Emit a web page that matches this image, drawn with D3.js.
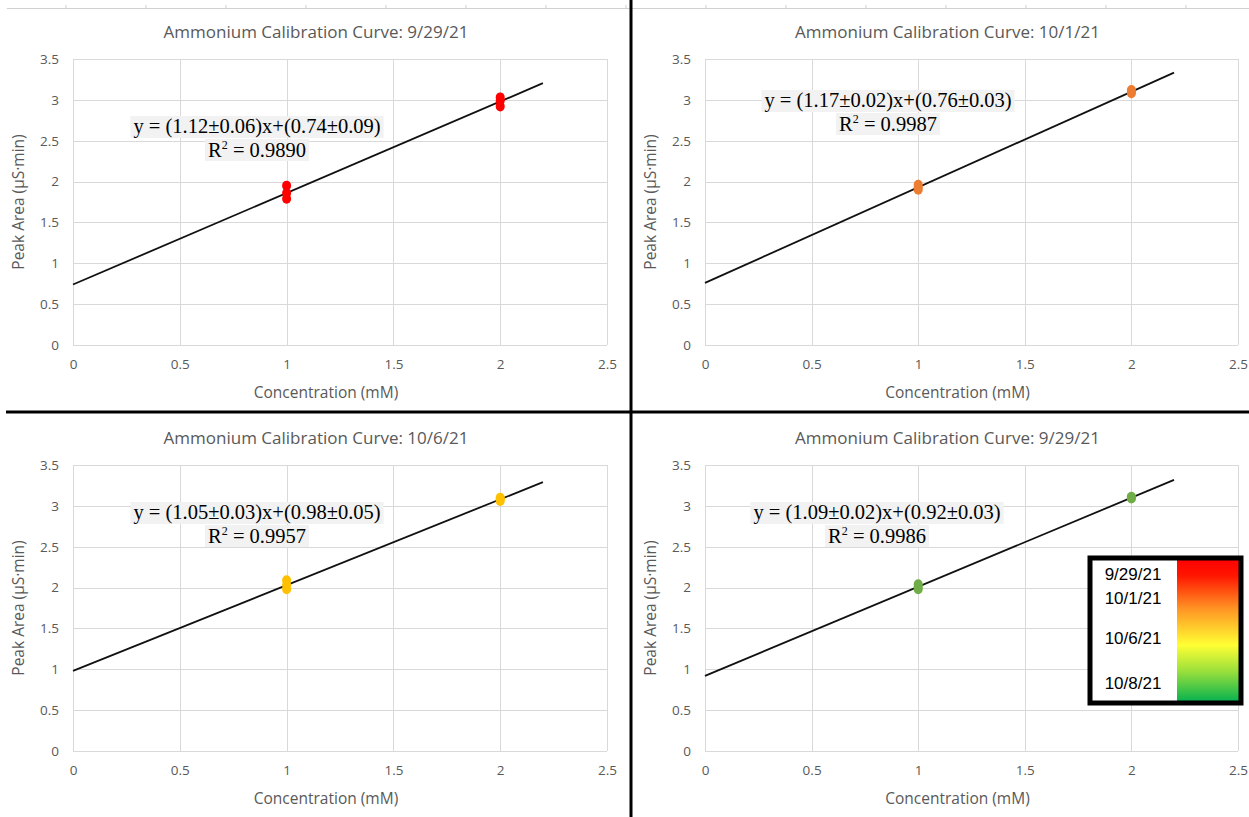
<!DOCTYPE html>
<html>
<head>
<meta charset="utf-8">
<script src="https://cdn.jsdelivr.net/npm/d3@7"></script>
<style>
  html, body { margin: 0; padding: 0; background: #fff; }
  svg { display: block; }
</style>
</head>
<body>
<svg id="chart" width="1249" height="817"></svg>
<script>
// Calibration runs, one panel each
const titles = [
  "Ammonium Calibration Curve: 9/29/21",
  "Ammonium Calibration Curve: 10/1/21",
  "Ammonium Calibration Curve: 10/6/21",
  "Ammonium Calibration Curve: 9/29/21"
];
const pointColors = ["#ff0000", "#ed7d31", "#ffc000", "#70ad47"];
const slopes = [1.12, 1.17, 1.05, 1.09];
const slopeErrs = ["0.06", "0.02", "0.03", "0.02"];
const intercepts = [0.74, 0.76, 0.98, 0.92];
const interceptErrs = ["0.09", "0.03", "0.05", "0.03"];
const rSquared = ["0.9890", "0.9987", "0.9957", "0.9986"];

// Standards (mM) and measured peak areas (µS·min)
const concentrations = [1, 1, 1, 2, 2, 2];
const areasRun1 = [1.79, 1.86, 1.95, 2.92, 2.99, 3.03];
const areasRun2 = [1.90, 1.93, 1.96, 3.08, 3.10, 3.12];
const areasRun3 = [1.98, 2.03, 2.09, 3.06, 3.08, 3.10];
const areasRun4 = [1.98, 2.01, 2.04, 3.09, 3.10, 3.11];
const areas = [areasRun1, areasRun2, areasRun3, areasRun4];

const xTicks = [0, 0.5, 1, 1.5, 2, 2.5];
const yTicks = [0, 0.5, 1, 1.5, 2, 2.5, 3, 3.5];
const fitEnd = 2.2;

const legendDates = ["9/29/21", "10/1/21", "10/6/21", "10/8/21"];
const legendPositions = [0.11, 0.275, 0.555, 0.865];

const svg = d3.select("#chart");

// Panel frames: plot-area origin and extents
const frames = [
  { x0: 73, x1: 607, yTop: 59, yBot: 345, titleY: 38, xLabY: 398, yLabX: 24, eqX: 257, eqY: 133 },
  { x0: 705, x1: 1238, yTop: 59, yBot: 345, titleY: 38, xLabY: 398, yLabX: 656, eqX: 888, eqY: 107 },
  { x0: 73, x1: 607, yTop: 465, yBot: 751, titleY: 444, xLabY: 804, yLabX: 24, eqX: 257, eqY: 519 },
  { x0: 705, x1: 1238, yTop: 465, yBot: 751, titleY: 444, xLabY: 804, yLabX: 656, eqX: 877, eqY: 519 }
];

const sansFont = "'Open Sans', 'Liberation Sans', sans-serif";
const serifFont = "'Liberation Serif', 'DejaVu Serif', serif";
const textGray = "#595959";
const gridGray = "#d9d9d9";

// Faint sheet ruler along the top edge
const ruler = svg.append("g");
ruler.append("line").attr("x1", 7).attr("x2", 1249).attr("y1", 8.5).attr("y2", 8.5)
  .attr("stroke", "#d0d0d0").attr("stroke-width", 1);
ruler.selectAll("line.tick").data(d3.range(66, 1249, 80)).join("line")
  .attr("class", "tick")
  .attr("x1", d => d).attr("x2", d => d).attr("y1", 5).attr("y2", 8.5)
  .attr("stroke", "#d0d0d0");

frames.forEach((f, i) => {
  const x = d3.scaleLinear().domain([0, 2.5]).range([f.x0, f.x1]);
  const y = d3.scaleLinear().domain([0, 3.5]).range([f.yBot, f.yTop]);
  const g = svg.append("g");

  // Gridlines
  g.append("g").selectAll("line").data(yTicks).join("line")
    .attr("x1", f.x0).attr("x2", f.x1)
    .attr("y1", d => Math.round(y(d)) + 0.5).attr("y2", d => Math.round(y(d)) + 0.5)
    .attr("stroke", gridGray).attr("stroke-width", 1);
  g.append("g").selectAll("line").data(xTicks).join("line")
    .attr("x1", d => Math.round(x(d)) + 0.5).attr("x2", d => Math.round(x(d)) + 0.5)
    .attr("y1", f.yTop).attr("y2", f.yBot)
    .attr("stroke", gridGray).attr("stroke-width", 1);

  // Axes (labels only, Excel-style)
  const xAxis = g.append("g").attr("transform", `translate(0,${f.yBot})`)
    .call(d3.axisBottom(x).tickValues(xTicks).tickSize(0).tickPadding(14).tickFormat(d3.format("")));
  const yAxis = g.append("g").attr("transform", `translate(${f.x0},0)`)
    .call(d3.axisLeft(y).tickValues(yTicks).tickSize(0).tickPadding(14).tickFormat(d3.format("")));
  [xAxis, yAxis].forEach(a => {
    a.select(".domain").remove();
    a.selectAll("text").attr("fill", textGray).attr("font-size", 13.5)
      .attr("font-family", sansFont);
  });

  // Title and axis titles
  g.append("text").attr("x", (f.x0 + f.x1) / 2 - 24).attr("y", f.titleY)
    .attr("text-anchor", "middle").attr("fill", textGray)
    .attr("font-family", sansFont).attr("font-size", 17)
    .text(titles[i]);
  g.append("text").attr("x", (f.x0 + f.x1) / 2 - 14).attr("y", f.xLabY)
    .attr("text-anchor", "middle").attr("fill", textGray)
    .attr("font-family", sansFont).attr("font-size", 15.5)
    .text("Concentration (mM)");
  g.append("text")
    .attr("transform", `translate(${f.yLabX},${(f.yTop + f.yBot) / 2}) rotate(-90)`)
    .attr("text-anchor", "middle").attr("fill", textGray)
    .attr("font-family", sansFont).attr("font-size", 15.5)
    .text("Peak Area (µS·min)");

  // Linear fit
  g.append("line")
    .attr("x1", x(0)).attr("y1", y(intercepts[i]))
    .attr("x2", x(fitEnd)).attr("y2", y(intercepts[i] + slopes[i] * fitEnd))
    .attr("stroke", "#111").attr("stroke-width", 1.8);

  // Standards
  g.append("g").selectAll("ellipse").data(concentrations.map((c, k) => [c, areas[i][k]]))
    .join("ellipse")
    .attr("cx", d => x(d[0])).attr("cy", d => y(d[1]))
    .attr("rx", 4.5).attr("ry", 5)
    .attr("fill", pointColors[i]);

  // Fit equation with shaded label background
  const eq = g.append("g");
  const line1 = eq.append("text").attr("x", f.eqX).attr("y", f.eqY)
    .attr("text-anchor", "middle").attr("font-family", serifFont)
    .attr("font-size", 20.5).attr("fill", "#000")
    .text(`y = (${slopes[i].toFixed(2)}±${slopeErrs[i]})x+(${intercepts[i].toFixed(2)}±${interceptErrs[i]})`);
  const line2 = eq.append("text").attr("x", f.eqX).attr("y", f.eqY + 24)
    .attr("text-anchor", "middle").attr("font-family", serifFont)
    .attr("font-size", 20.5).attr("fill", "#000");
  line2.append("tspan").text("R");
  line2.append("tspan").attr("font-size", 12).attr("dy", -8).text("2");
  line2.append("tspan").attr("dy", 8).text(` = ${rSquared[i]}`);
  [line1, line2].forEach(t => {
    const b = t.node().getBBox();
    eq.insert("rect", "text")
      .attr("x", b.x - 3).attr("y", b.y + 1)
      .attr("width", b.width + 6).attr("height", b.height - 1)
      .attr("fill", "#f2f2f2");
  });
});

// Panel dividers
svg.append("line").attr("x1", 631).attr("x2", 631).attr("y1", 0).attr("y2", 817)
  .attr("stroke", "#000").attr("stroke-width", 3);
svg.append("line").attr("x1", 6).attr("x2", 1249).attr("y1", 412).attr("y2", 412)
  .attr("stroke", "#000").attr("stroke-width", 3);

// Date colour key
const defs = svg.append("defs");
const grad = defs.append("linearGradient").attr("id", "dateRamp")
  .attr("x1", 0).attr("y1", 0).attr("x2", 0).attr("y2", 1);
const rampStops = [
  [0, "#ff0000"], [0.12, "#ff1500"], [0.35, "#ff9424"],
  [0.6, "#ffff33"], [0.78, "#9be03c"], [1, "#00b050"]
];
grad.selectAll("stop").data(rampStops).join("stop")
  .attr("offset", d => d[0]).attr("stop-color", d => d[1]);

const key = svg.append("g");
const kx = 1090, ky = 558, kw = 151, kh = 145;
key.append("rect").attr("x", kx).attr("y", ky).attr("width", kw).attr("height", kh)
  .attr("fill", "#fff");
key.append("rect").attr("x", 1177).attr("y", ky).attr("width", kx + kw - 1177).attr("height", kh)
  .attr("fill", "url(#dateRamp)");
key.append("rect").attr("x", kx).attr("y", ky).attr("width", kw).attr("height", kh)
  .attr("fill", "none").attr("stroke", "#000").attr("stroke-width", 5);
const keyY = d3.scaleLinear().domain([0, 1]).range([ky, ky + kh]);
key.selectAll("text.date").data(legendDates).join("text")
  .attr("class", "date")
  .attr("x", 1133).attr("y", (d, k) => keyY(legendPositions[k]) + 6)
  .attr("text-anchor", "middle").attr("font-family", "'Liberation Sans', Arial, sans-serif")
  .attr("font-size", 17).attr("fill", "#000")
  .text(d => d);
</script>
</body>
</html>
